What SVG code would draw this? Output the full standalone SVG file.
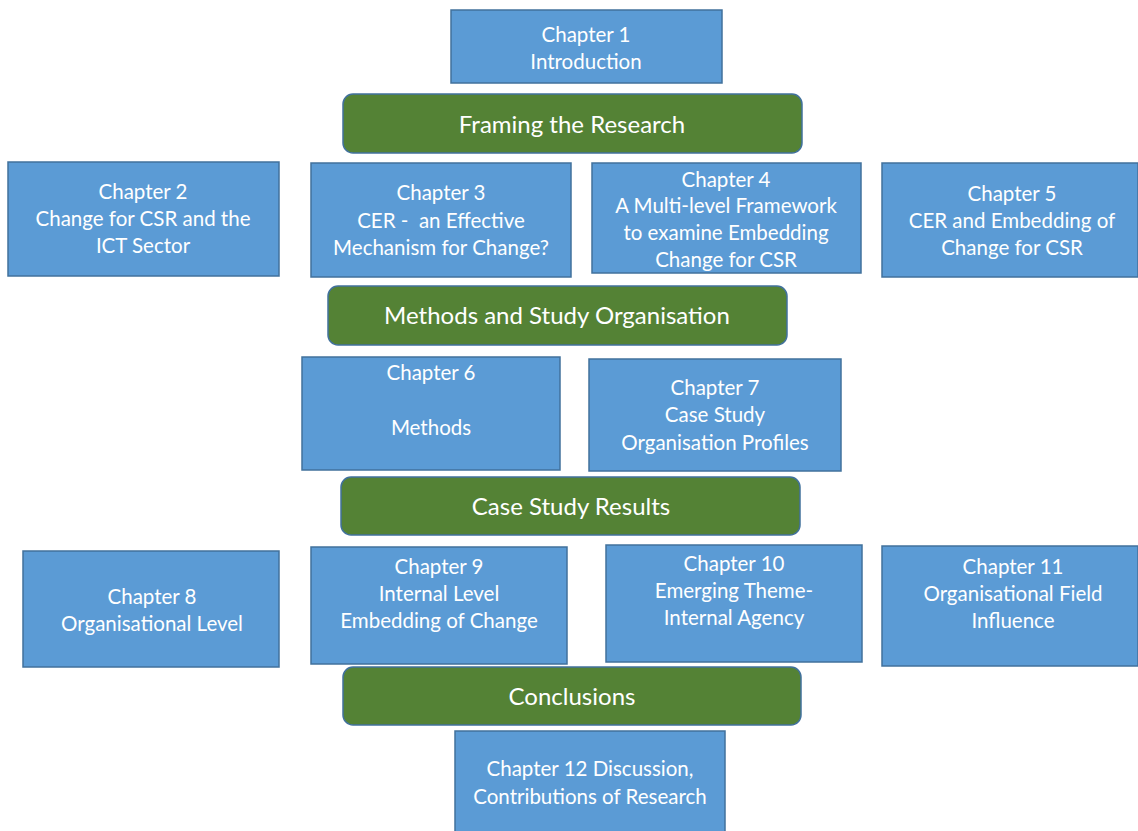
<svg xmlns="http://www.w3.org/2000/svg" width="1138" height="831" viewBox="0 0 1138 831">
  <style>
    .ch { fill: #5B9BD5; stroke: #41719C; stroke-width: 1.5; }
    .sec { fill: #548235; stroke: #41719C; stroke-width: 1.5; }
    text { font-family: Lato, "Open Sans", sans-serif; fill: #FFFFFF; text-anchor: middle; }
    .t { font-size: 20.5px; }
    .s { font-size: 24px; }
  </style>
  <rect width="1138" height="831" fill="#FFFFFF"/>

  <g id="ch1">
    <rect class="ch" x="451" y="10" width="271" height="73"/>
    <text class="t" x="586" y="42">Chapter 1</text>
    <text class="t" x="586" y="69">Introduction</text>
  </g>

  <g id="framing">
    <rect class="sec" x="343" y="94" width="459" height="59" rx="10"/>
    <text class="s" x="572" y="133">Framing the Research</text>
  </g>

  <g id="ch2">
    <rect class="ch" x="8" y="162" width="271" height="114"/>
    <text class="t" x="143" y="199">Chapter 2</text>
    <text class="t" x="143" y="226">Change for CSR and the</text>
    <text class="t" x="143" y="253">ICT Sector</text>
  </g>

  <g id="ch3">
    <rect class="ch" x="311" y="163" width="260" height="114"/>
    <text class="t" x="441" y="200">Chapter 3</text>
    <text class="t" x="441" y="228" xml:space="preserve">CER -  an Effective</text>
    <text class="t" x="441" y="255">Mechanism for Change?</text>
  </g>

  <g id="ch4">
    <rect class="ch" x="592" y="163" width="269" height="110"/>
    <text class="t" x="726" y="187">Chapter 4</text>
    <text class="t" x="726" y="213">A Multi-level Framework</text>
    <text class="t" x="726" y="240">to examine Embedding</text>
    <text class="t" x="726" y="267">Change for CSR</text>
  </g>

  <g id="ch5">
    <rect class="ch" x="882" y="163" width="256" height="114"/>
    <text class="t" x="1012" y="201">Chapter 5</text>
    <text class="t" x="1012" y="228">CER and Embedding of</text>
    <text class="t" x="1012" y="255">Change for CSR</text>
  </g>

  <g id="methods-org">
    <rect class="sec" x="328" y="286" width="459" height="59" rx="10"/>
    <text class="s" x="557" y="324">Methods and Study Organisation</text>
  </g>

  <g id="ch6">
    <rect class="ch" x="302" y="357" width="258" height="113"/>
    <text class="t" x="431" y="380">Chapter 6</text>
    <text class="t" x="431" y="435">Methods</text>
  </g>

  <g id="ch7">
    <rect class="ch" x="589" y="359" width="252" height="112"/>
    <text class="t" x="715" y="395">Chapter 7</text>
    <text class="t" x="715" y="422">Case Study</text>
    <text class="t" x="715" y="450">Organisation Profiles</text>
  </g>

  <g id="results">
    <rect class="sec" x="341" y="477" width="459" height="58" rx="10"/>
    <text class="s" x="571" y="515">Case Study Results</text>
  </g>

  <g id="ch8">
    <rect class="ch" x="23" y="551" width="256" height="116"/>
    <text class="t" x="152" y="604">Chapter 8</text>
    <text class="t" x="152" y="631">Organisational Level</text>
  </g>

  <g id="ch9">
    <rect class="ch" x="311" y="547" width="256" height="117"/>
    <text class="t" x="439" y="574">Chapter 9</text>
    <text class="t" x="439" y="601">Internal Level</text>
    <text class="t" x="439" y="628">Embedding of Change</text>
  </g>

  <g id="ch10">
    <rect class="ch" x="606" y="545" width="256" height="117"/>
    <text class="t" x="734" y="571">Chapter 10</text>
    <text class="t" x="734" y="598">Emerging Theme-</text>
    <text class="t" x="734" y="625">Internal Agency</text>
  </g>

  <g id="ch11">
    <rect class="ch" x="882" y="546" width="256" height="120"/>
    <text class="t" x="1013" y="574">Chapter 11</text>
    <text class="t" x="1013" y="601">Organisational Field</text>
    <text class="t" x="1013" y="628">Influence</text>
  </g>

  <g id="conclusions">
    <rect class="sec" x="343" y="667" width="458" height="58" rx="10"/>
    <text class="s" x="572" y="705">Conclusions</text>
  </g>

  <g id="ch12">
    <rect class="ch" x="455" y="731" width="270" height="104"/>
    <text class="t" x="590" y="776">Chapter 12 Discussion,</text>
    <text class="t" x="590" y="804">Contributions of Research</text>
  </g>

  <g id="connectors"></g>
</svg>
